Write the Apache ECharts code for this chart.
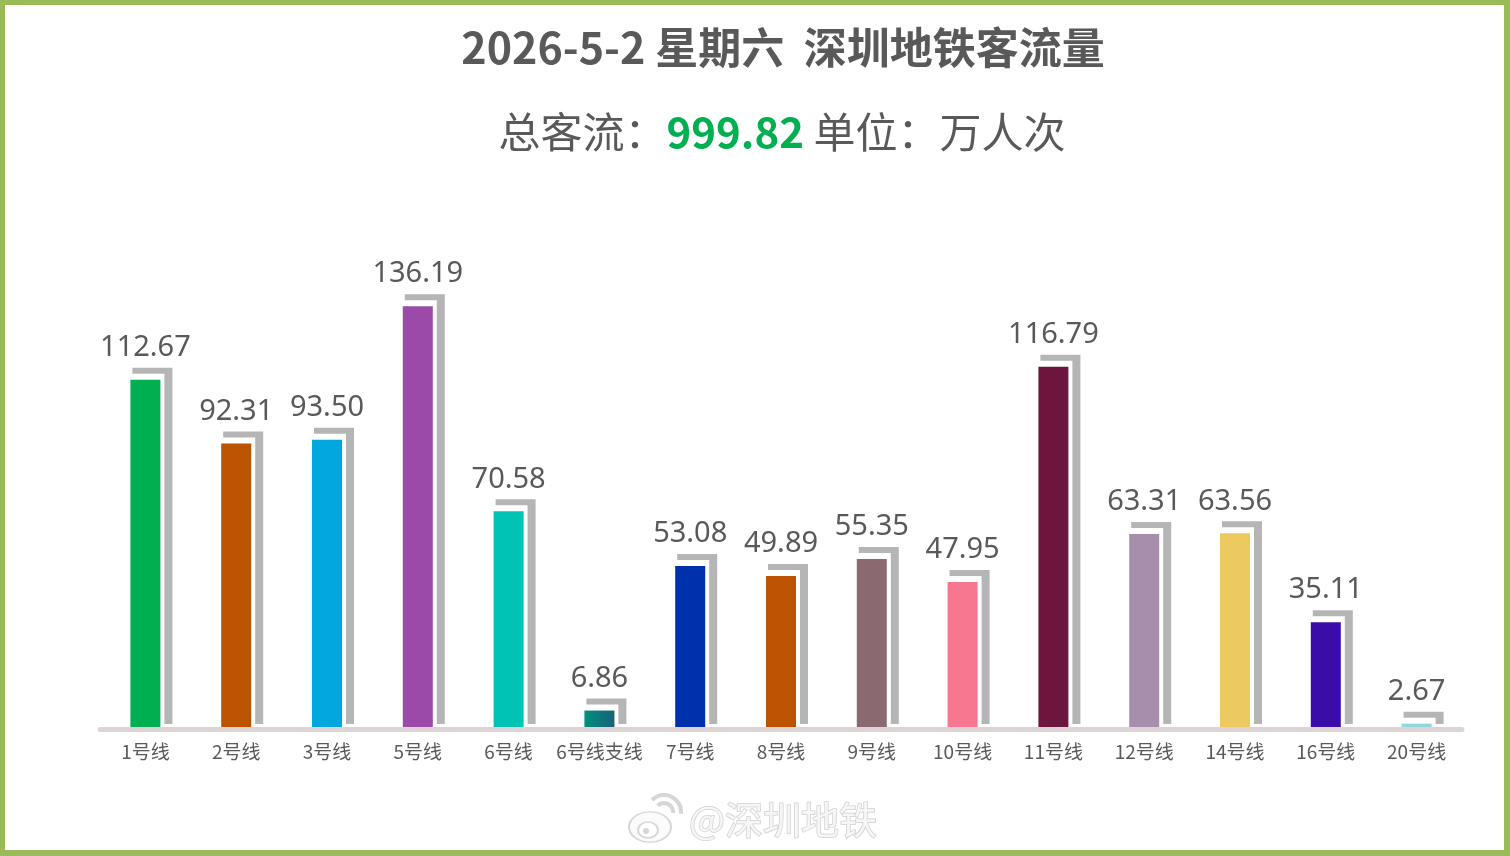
<!DOCTYPE html>
<html>
<head>
<meta charset="utf-8">
<script src="https://cdn.jsdelivr.net/npm/echarts@6/dist/echarts.min.js"></script>
<style>
html,body{margin:0;padding:0;background:#fff;}
#wrap{position:relative;width:1510px;height:856px;}
#chart{position:absolute;left:0;top:0;width:1510px;height:856px;}
#frame{position:absolute;left:0;top:0;width:1510px;height:856px;box-sizing:border-box;
  border-style:solid;border-color:#9bbb59;border-width:5px 6px 6px 5px;pointer-events:none;}
</style>
</head>
<body>
<div id="wrap"><div id="chart"></div><div id="frame"></div></div>
<script>
const titleText = '2026-5-2 星期六  深圳地铁客流量';
const totalLabel = '总客流：';
const totalValue = '999.82';
const unitLabel = ' 单位：万人次';
const watermark = '@深圳地铁';
const categories = ['1号线','2号线','3号线','5号线','6号线','6号线支线','7号线','8号线','9号线','10号线','11号线','12号线','14号线','16号线','20号线'];
const values = [112.67, 92.31, 93.50, 136.19, 70.58, 6.86, 53.08, 49.89, 55.35, 47.95, 116.79, 63.31, 63.56, 35.11, 2.67];
const colors = ['#00b050','#bb5300','#00a6dd','#9c4aa9','#00c3b6','GRAD','#0030ab','#bb5300','#8a6a70','#f6778f','#6c163d','#a78eac','#ecca60','#3a0ca8','#8fd8e0'];

const chart = echarts.init(document.getElementById('chart'));
const FONT = '"Noto Sans CJK SC","Microsoft YaHei",sans-serif';
const NUMFONT = '"Noto Sans","Open Sans","Noto Sans CJK SC",sans-serif';

function colorFor(i){
  if (colors[i] === 'GRAD') {
    return new echarts.graphic.LinearGradient(0,0,1,0,[{offset:0,color:'#00907e'},{offset:1,color:'#176079'}]);
  }
  return colors[i];
}

const option = {
  animation:false,
  backgroundColor:'#fff',
  grid:{left:100,right:48,top:263,bottom:124,containLabel:false},
  xAxis:{
    type:'category',
    data:categories,
    z:10,
    offset:-2.5,
    axisLine:{show:true,lineStyle:{color:'#ddd4d6',width:5}},
    axisTick:{show:false},
    axisLabel:{color:'#595959',fontSize:19,fontFamily:FONT,margin:13,interval:0}
  },
  yAxis:{type:'value',min:0,max:150,show:false,splitLine:{show:false}},
  series:[{
    type:'custom',
    data:values.map((v,i)=>[i,v]),
    renderItem:function(params, api){
      const i = api.value(0);
      const v = api.value(1);
      const top = api.coord([i, v]);
      const base = api.coord([i, 0]);
      const bw = 30;
      const x = top[0] - bw/2;
      const yTop = top[1], y0 = base[1];
      return {type:'group', children:[
        {type:'rect', shape:{x:x+2, y:yTop-12, width:40, height:(y0-8)-(yTop-12)}, style:{fill:'#b5b5b5'}},
        {type:'rect', shape:{x:x, y:yTop-6, width:34, height:y0-(yTop-6)}, style:{fill:'#ffffff'}},
        {type:'rect', shape:{x:x, y:yTop, width:bw, height:y0-yTop}, style:{fill:colorFor(i)}},
        {type:'text', x:top[0], y:yTop-32, style:{text:values[i].toFixed(2), align:'center', verticalAlign:'middle',
          font:'29px ' + NUMFONT, fill:'#595959'}}
      ]};
    }
  }],
  graphic:[
    {type:'text', x:783, y:48, style:{text:titleText, align:'center', verticalAlign:'middle',
      font:'bold 43px ' + FONT, fill:'#595959'}},
    {type:'text', x:782, y:132, style:{
      text:'{a|' + totalLabel + '}{b|' + totalValue + '}{a|' + unitLabel + '}',
      align:'center', verticalAlign:'middle',
      rich:{
        a:{fontSize:42, fontFamily:FONT, fill:'#595959'},
        b:{fontSize:42, fontFamily:FONT, fontWeight:'bold', fill:'#00b050'}
      }}},
    {type:'group', children:[
      {type:'circle', x:650, y:827, scaleX:1, scaleY:0.72, shape:{cx:0,cy:0,r:21}, style:{fill:'#fbfbfb', stroke:'#d6d6d6', lineWidth:2}},
      {type:'circle', x:648, y:830, scaleX:1, scaleY:0.8, shape:{cx:0,cy:0,r:10}, style:{fill:'#fff', stroke:'#d6d6d6', lineWidth:2}},
      {type:'circle', shape:{cx:646,cy:831,r:3}, style:{fill:'#d6d6d6'}},
      {type:'arc', shape:{cx:664,cy:812,r:9,startAngle:-Math.PI*0.75,endAngle:0.1}, style:{stroke:'#d6d6d6', lineWidth:4, fill:null}},
      {type:'arc', shape:{cx:664,cy:812,r:17,startAngle:-Math.PI*0.75,endAngle:0.1}, style:{stroke:'#d6d6d6', lineWidth:4, fill:null}}
    ]},
    {type:'text', x:783, y:820, style:{text:watermark, align:'center', verticalAlign:'middle',
      font:'38px ' + FONT, fill:'#f6f6f6', stroke:'#cfcfcf', lineWidth:1.5}}
  ]
};
chart.setOption(option);
</script>
</body>
</html>
